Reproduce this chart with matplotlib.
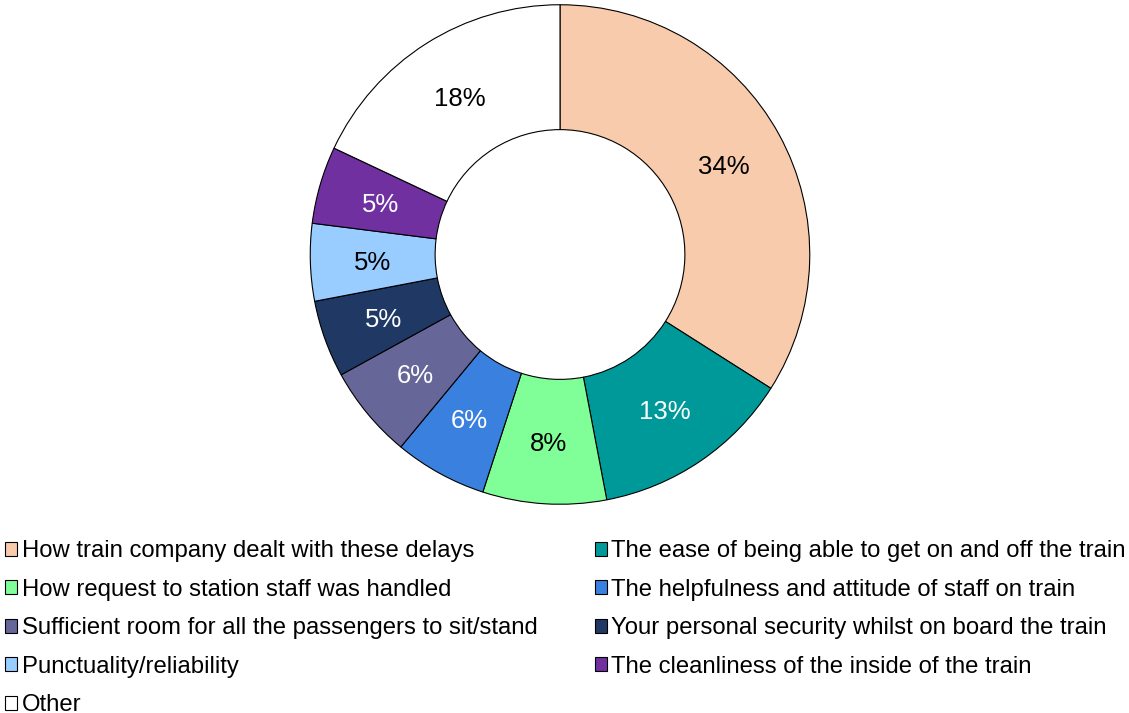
import matplotlib.pyplot as plt
from matplotlib.patches import Patch

plt.rcParams['font.family'] = ['Liberation Sans', 'DejaVu Sans']

categories = [
    "How train company dealt with these delays",
    "The ease of being able to get on and off the train",
    "How request to station staff was handled",
    "The helpfulness and attitude of staff on train",
    "Sufficient room for all the passengers to sit/stand",
    "Your personal security whilst on board the train",
    "Punctuality/reliability",
    "The cleanliness of the inside of the train",
    "Other",
]
shares = [34, 13, 8, 6, 6, 5, 5, 5, 18]
colors = ["#F8CBAD", "#009999", "#80FF99", "#3A80DE", "#666699",
          "#1F3864", "#99CCFF", "#7030A0", "#FFFFFF"]
label_colors = ["black", "white", "black", "white", "white",
                "white", "black", "white", "black"]

W, H = 1129, 713
fig = plt.figure(figsize=(W / 100, H / 100), dpi=100)

# donut centred at (560, 254) px, outer radius ~251 px
cx, cy, r = 560, 254.5, 251
ax = fig.add_axes([(cx - r) / W, (H - cy - r) / H, 2 * r / W, 2 * r / H])

wedges, texts = ax.pie(
    shares, colors=colors, startangle=90, counterclock=False,
    radius=1.0, labels=[f"{v}%" for v in shares], labeldistance=0.75,
    wedgeprops=dict(width=0.5, edgecolor="black", linewidth=0.8),
    textprops=dict(fontsize=18.5),
)
for t, c in zip(texts, label_colors):
    t.set_color(c)
    t.set_ha("center")
    t.set_va("center_baseline")
ax.set_xlim(-1.005, 1.005)
ax.set_ylim(-1.005, 1.005)
ax.set_aspect("equal")
ax.axis("off")

# legend fills row by row: reorder for matplotlib's column-first layout
order = [0, 2, 4, 6, 8, 1, 3, 5, 7]
handles = [Patch(facecolor=colors[i], edgecolor="black", linewidth=0.8) for i in order]
labels = [categories[i] for i in order]
fig.legend(handles, labels, ncol=2, loc="upper left",
           bbox_to_anchor=(0.0, 1 - 535.5 / H), frameon=False,
           fontsize=17.2, handlelength=0.5, handleheight=0.5,
           handletextpad=0.2, labelspacing=0.69, columnspacing=2.4,
           borderaxespad=0, borderpad=0.2)

fig.savefig("out.png", dpi=100)
